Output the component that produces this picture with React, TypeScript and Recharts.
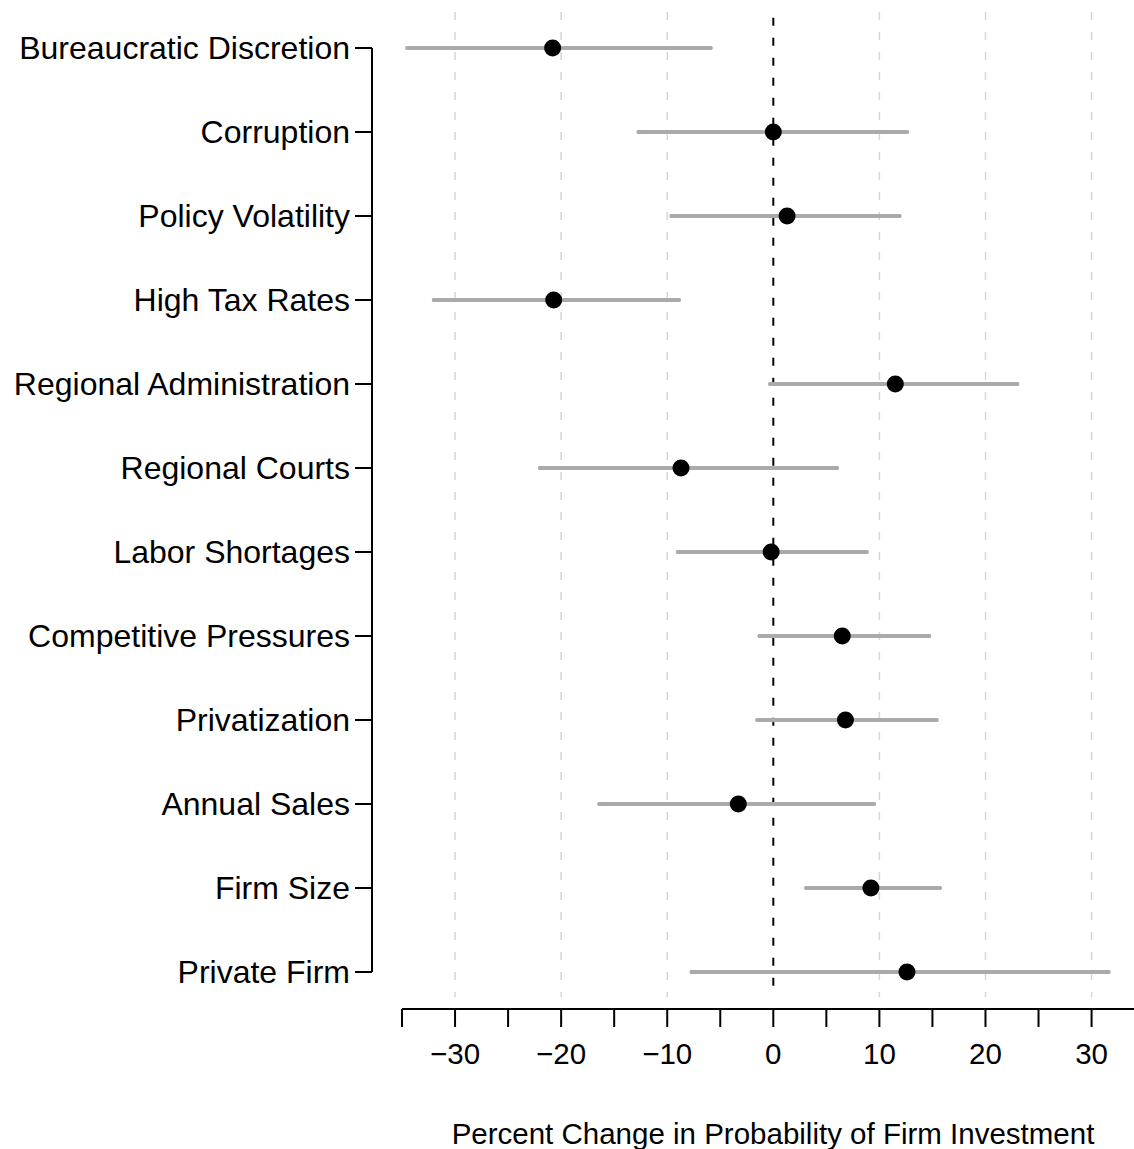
import React from "react";
import {
  ScatterChart,
  Scatter,
  XAxis,
  YAxis,
  ErrorBar,
  ReferenceLine,
  Label,
} from "recharts";

const categories = [
  "Bureaucratic Discretion",
  "Corruption",
  "Policy Volatility",
  "High Tax Rates",
  "Regional Administration",
  "Regional Courts",
  "Labor Shortages",
  "Competitive Pressures",
  "Privatization",
  "Annual Sales",
  "Firm Size",
  "Private Firm",
];
const estimates = [-20.8, 0.0, 1.3, -20.7, 11.5, -8.7, -0.2, 6.5, 6.8, -3.3, 9.2, 12.6];
const lower = [-34.5, -12.7, -9.6, -32.0, -0.3, -22.0, -9.0, -1.3, -1.5, -16.4, 3.1, -7.7];
const upper = [-5.9, 12.6, 11.9, -8.9, 23.0, 6.0, 8.8, 14.7, 15.4, 9.5, 15.7, 31.6];
const xTicks = [-35, -30, -25, -20, -15, -10, -5, 0, 5, 10, 15, 20, 25, 30];
const gridValues = [-30, -20, -10, 10, 20, 30];
const xTitle = "Percent Change in Probability of Firm Investment";

const rows = categories.map((name, i) => ({
  name,
  row: i,
  est: estimates[i],
  err: [estimates[i] - lower[i], upper[i] - estimates[i]],
}));
const rowTicks = categories.map((_, i) => i);

const FONT = "'Liberation Sans', Arial, Helvetica, sans-serif";
// grid / zero lines run a bit past the first and last row
const GRID_TOP = -0.43;
const GRID_BOTTOM = 11.3;

function RowTick({ x, y, payload }: any) {
  return (
    <text x={x} y={y} dy={11} textAnchor="end" fontSize={32} fontFamily={FONT} fill="#000">
      {categories[payload.value]}
    </text>
  );
}

function ValueTick({ x, y, payload }: any) {
  const v = payload.value as number;
  if (v % 10 !== 0) return <g />;
  const txt = v < 0 ? `\u2212${Math.abs(v)}` : `${v}`;
  return (
    <text x={x} y={y} dy={35} textAnchor="middle" fontSize={29.5} fontFamily={FONT} fill="#000">
      {txt}
    </text>
  );
}

function TitleLabel({ viewBox }: any) {
  const { x, y, width, height } = viewBox;
  return (
    <text x={x + width / 2 + 5} y={y + height - 5} textAnchor="middle" fontSize={29.5} fontFamily={FONT} fill="#000">
      {xTitle}
    </text>
  );
}

export default function App() {
  return (
    <div style={{ position: "absolute", left: 0, top: 0, width: 1134, height: 1149, background: "#fff" }}>
      <ScatterChart width={1134} height={1149} margin={{ top: 48, right: 0, bottom: 0, left: 0 }}>
        <XAxis
          xAxisId="gap"
          type="number"
          dataKey="est"
          domain={[-35, 34]}
          height={37}
          tick={false}
          tickLine={false}
          axisLine={false}
        />
        <XAxis
          xAxisId="x"
          type="number"
          dataKey="est"
          domain={[-35, 34]}
          ticks={xTicks}
          interval={0}
          height={140}
          tickSize={18}
          tick={<ValueTick />}
          tickLine={{ stroke: "#000", strokeWidth: 2 }}
          axisLine={{ stroke: "#000", strokeWidth: 2 }}
        >
          <Label content={<TitleLabel />} />
        </XAxis>
        <YAxis
          yAxisId="gap"
          type="number"
          dataKey="row"
          domain={[0, 11]}
          reversed
          width={30}
          tick={false}
          tickLine={false}
          axisLine={false}
        />
        <YAxis
          yAxisId="rows"
          type="number"
          dataKey="row"
          domain={[0, 11]}
          reversed
          ticks={rowTicks}
          interval={0}
          width={372}
          tickSize={17}
          tickMargin={5}
          tick={<RowTick />}
          tickLine={{ stroke: "#000", strokeWidth: 2 }}
          axisLine={{ stroke: "#000", strokeWidth: 2 }}
        />
        {gridValues.map((v) => (
          <ReferenceLine
            key={v}
            xAxisId="x"
            yAxisId="rows"
            segment={[
              { x: v, y: GRID_TOP },
              { x: v, y: GRID_BOTTOM },
            ]}
            ifOverflow="visible"
            stroke="#d6d6d6"
            strokeWidth={1.5}
            strokeDasharray="8 12"
          />
        ))}
        <ReferenceLine
          xAxisId="x"
          yAxisId="rows"
          segment={[
            { x: 0, y: GRID_TOP + 0.07 },
            { x: 0, y: GRID_BOTTOM },
          ]}
          ifOverflow="visible"
          stroke="#000"
          strokeWidth={2}
          strokeDasharray="8 12"
        />
        <Scatter
          data={rows}
          xAxisId="x"
          yAxisId="rows"
          fill="#000"
          isAnimationActive={false}
          shape={(p: any) => <circle cx={p.cx} cy={p.cy} r={8.5} fill="#000" />}
        >
          <ErrorBar
            dataKey="err"
            direction="x"
            width={0}
            stroke="#aaaaaa"
            strokeWidth={4}
            strokeLinecap="round"
            isAnimationActive={false}
          />
        </Scatter>
      </ScatterChart>
    </div>
  );
}
